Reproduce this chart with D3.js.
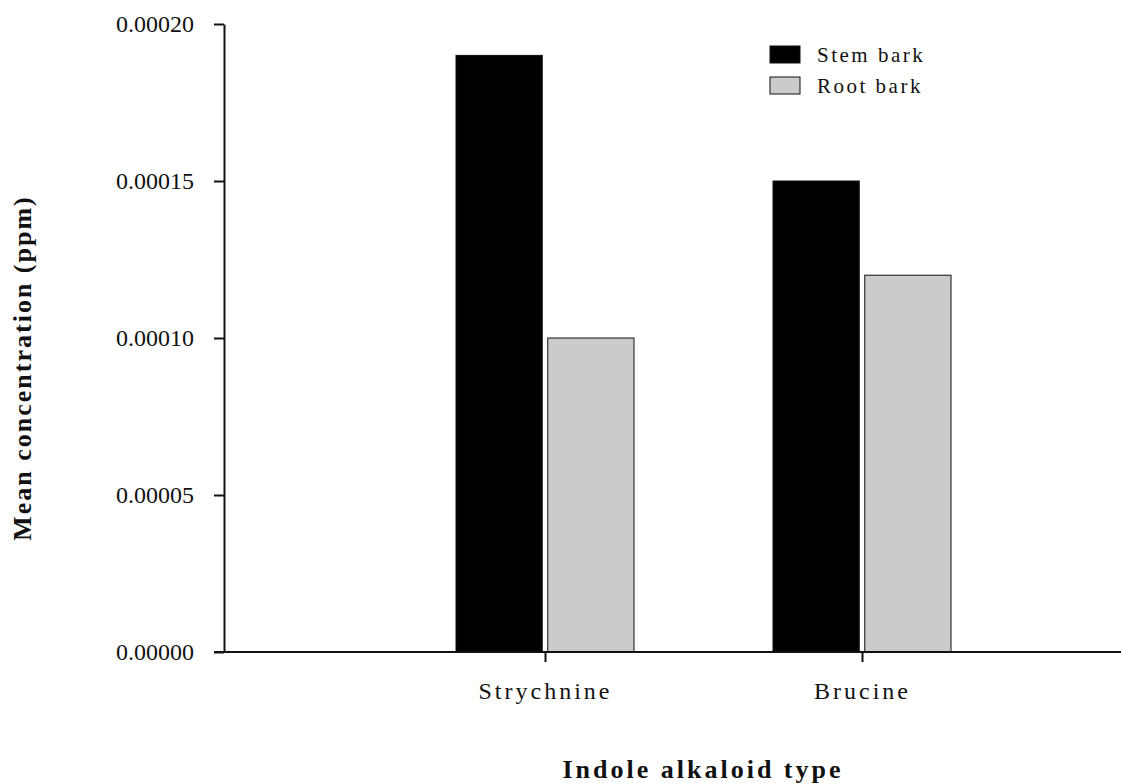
<!DOCTYPE html>
<html>
<head>
<meta charset="utf-8">
<script src="https://cdn.jsdelivr.net/npm/d3@7"></script>
<style>
  body { margin: 0; background: #fff; }
  text { font-family: "Liberation Serif", "Times New Roman", serif; fill: #111; }
</style>
</head>
<body>
<div id="chart"></div>
<script>
// Data
var categories = ["Strychnine", "Brucine"];
var seriesNames = ["Stem bark", "Root bark"];
var stemBark = [0.00019, 0.00015];
var rootBark = [0.00010, 0.00012];
var yTicks = [0, 0.00005, 0.00010, 0.00015, 0.00020];

var width = 1121;
var height = 784;
// plot edges (don't use "top", it is window.top)
var plotLeft = 224, plotTop = 24, plotBottom = 652;

var svg = d3.select('#chart').append('svg')
    .attr('width', width)
    .attr('height', height);

var y = d3.scaleLinear()
    .domain([0, 0.0002])
    .range([plotBottom, plotTop]);

// category centres
var x = d3.scalePoint()
    .domain(categories)
    .range([545, 862]);

// series within a category
var x1 = d3.scaleBand()
    .domain(seriesNames)
    .range([-89, 89])
    .paddingInner(0.06);

var color = d3.scaleOrdinal()
    .domain(seriesNames)
    .range(["#000000", "#cbcbcb"]);

var rows = categories.map(function(c, i) {
  return { cat: c, values: [stemBark[i], rootBark[i]] };
});

var groups = svg.selectAll('g.group')
    .data(rows)
  .enter().append('g')
    .attr('class', 'group')
    .attr('transform', function(d) { return 'translate(' + x(d.cat) + ',0)'; });

groups.selectAll('rect')
    .data(function(d) {
      return d.values.map(function(v, j) { return { name: seriesNames[j], value: v }; });
    })
  .enter().append('rect')
    .attr('x', function(d) { return x1(d.name); })
    .attr('y', function(d) { return y(d.value); })
    .attr('width', x1.bandwidth())
    .attr('height', function(d) { return y(0) - y(d.value); })
    .style('fill', function(d) { return color(d.name); })
    .style('stroke', '#111')
    .style('stroke-width', 1);

// y axis
var yAxis = svg.append('g')
    .attr('transform', 'translate(' + plotLeft + ',0)')
    .call(d3.axisLeft(y)
      .tickValues(yTicks)
      .tickFormat(function(d) { return d.toFixed(5); })
      .tickSize(10)
      .tickSizeOuter(0)
      .tickPadding(20));
yAxis.selectAll('text').style('font-size', '24px').style('font-family', '"Liberation Serif", serif');
yAxis.selectAll('line, path').style('stroke', '#111').style('stroke-width', 2);

// x axis
var xAxis = svg.append('g')
    .attr('transform', 'translate(0,' + plotBottom + ')')
    .call(d3.axisBottom(x).tickSize(10).tickPadding(20));
xAxis.select('.domain').remove();
xAxis.selectAll('text')
    .style('font-size', '24px')
    .style('letter-spacing', '3px')
    .style('font-family', '"Liberation Serif", serif');
xAxis.selectAll('line').style('stroke', '#111').style('stroke-width', 2);
xAxis.append('line')
    .attr('x1', plotLeft - 10)
    .attr('x2', width)
    .attr('y1', 0)
    .attr('y2', 0)
    .style('stroke', '#111')
    .style('stroke-width', 2);

// axis titles
svg.append('text')
    .attr('x', 703)
    .attr('y', 778)
    .attr('text-anchor', 'middle')
    .style('font-size', '26px')
    .style('font-weight', 'bold')
    .style('letter-spacing', '3px')
    .text('Indole alkaloid type');

svg.append('text')
    .attr('transform', 'translate(31,368) rotate(-90)')
    .attr('text-anchor', 'middle')
    .style('font-size', '26px')
    .style('font-weight', 'bold')
    .style('letter-spacing', '2px')
    .text('Mean concentration (ppm)');

// legend
var legend = svg.selectAll('g.legend')
    .data(seriesNames)
  .enter().append('g')
    .attr('class', 'legend')
    .attr('transform', function(d, i) { return 'translate(770,' + (46 + i * 31) + ')'; });

legend.append('rect')
    .attr('width', 30)
    .attr('height', 17)
    .style('fill', function(d) { return color(d); })
    .style('stroke', '#111')
    .style('stroke-width', 1);

legend.append('text')
    .attr('x', 47)
    .attr('y', 16)
    .style('font-size', '21px')
    .style('letter-spacing', '2.5px')
    .text(function(d) { return d; });
</script>
</body>
</html>
